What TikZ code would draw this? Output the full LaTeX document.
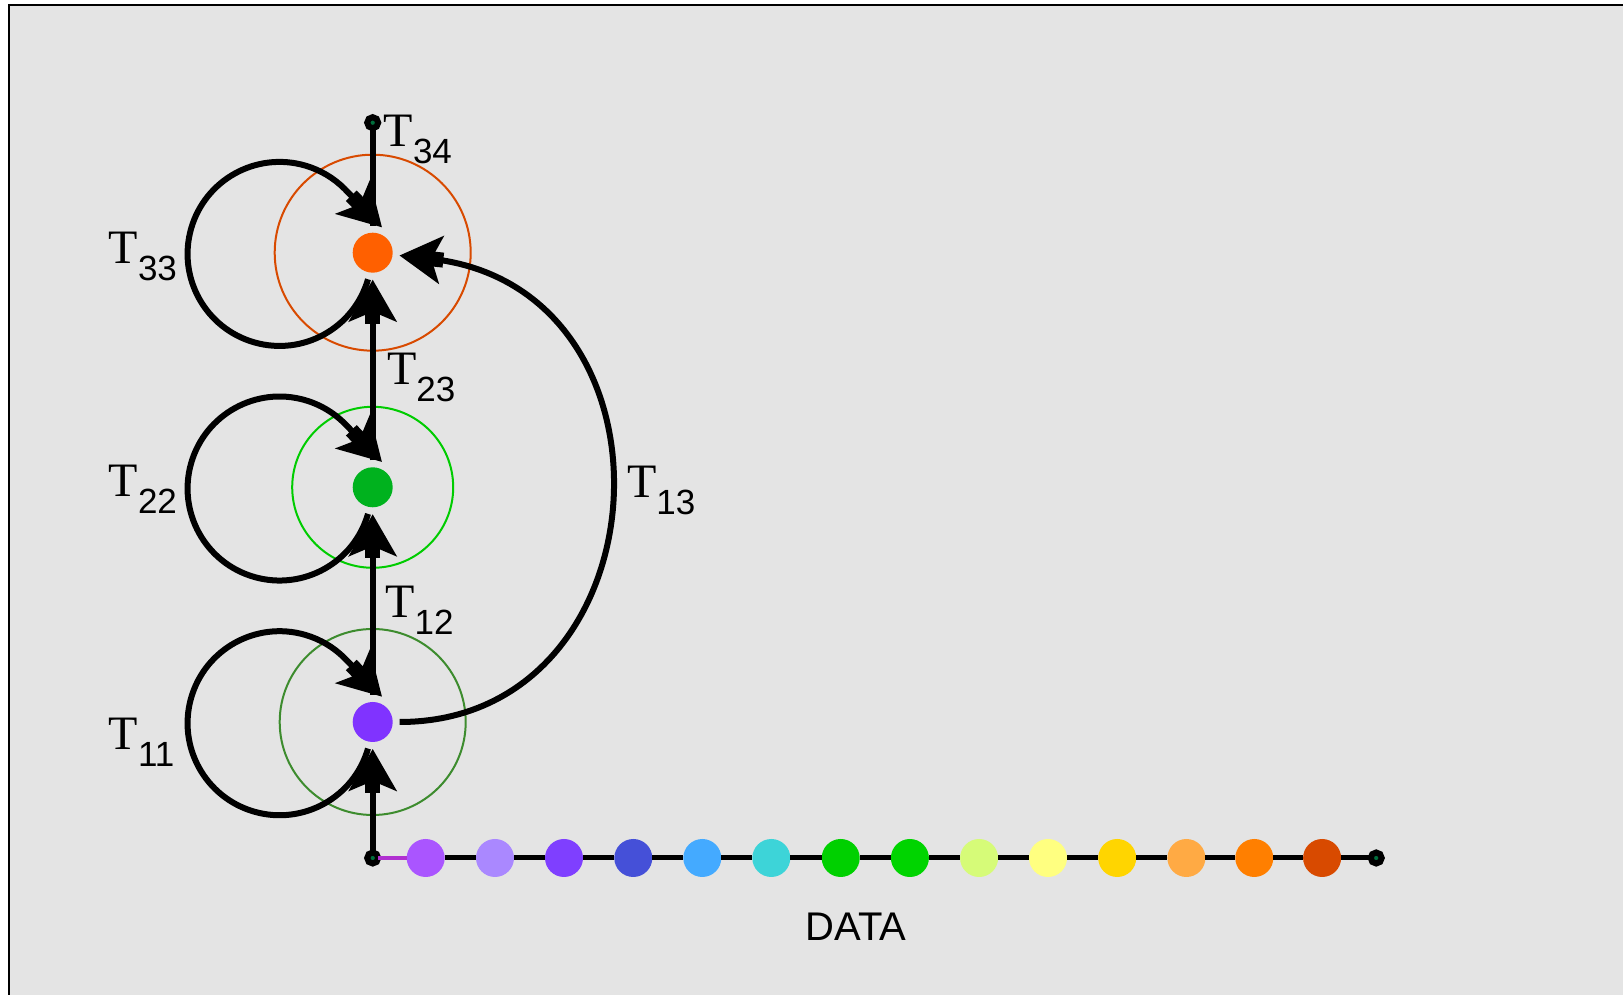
\documentclass[tikz,border=0pt]{standalone}
\usepackage{fontspec}
\setmainfont{Liberation Sans}
\newfontfamily\lserif{Liberation Serif}
\usepackage{tikz}
\usetikzlibrary{arrows.meta}
\usepackage{xcolor}
\definecolor{bggray}{RGB}{228,228,228}
\definecolor{dotgreen}{RGB}{0,110,60}
\definecolor{nodeorange}{RGB}{255,96,0}
\definecolor{nodegreen}{RGB}{0,178,30}
\definecolor{nodepurple}{RGB}{128,51,255}
\definecolor{ringorange}{RGB}{216,74,0}
\definecolor{ringgreen}{RGB}{0,204,0}
\definecolor{ringdark}{RGB}{61,140,46}
\definecolor{linkpurple}{RGB}{176,48,208}
\definecolor{c1}{HTML}{AA55FF}
\definecolor{c2}{HTML}{AA88FF}
\definecolor{c3}{HTML}{7F3FFF}
\definecolor{c4}{HTML}{4550D8}
\definecolor{c5}{HTML}{44AAFF}
\definecolor{c6}{HTML}{3DD4D8}
\definecolor{c7}{HTML}{00D000}
\definecolor{c8}{HTML}{00D400}
\definecolor{c9}{HTML}{D6FB78}
\definecolor{c10}{HTML}{FFFF80}
\definecolor{c11}{HTML}{FFD500}
\definecolor{c12}{HTML}{FFAA44}
\definecolor{c13}{HTML}{FF7F00}
\definecolor{c14}{HTML}{D84A00}
\newcommand{\tlab}[1]{{\lserif T}\raisebox{-8.5pt}{\fontsize{17.5}{20}\selectfont #1}}

\begin{document}
\begin{tikzpicture}[x=0.5pt, y=0.5pt,
    >={Rectangle[length=6.3pt,width=7.5pt,sep=-5.3pt] Stealth[length=21pt,width=24pt,inset=5pt]},
    state/.style={circle, minimum size=20pt, inner sep=0pt, outer sep=3.5pt},
    enddot/.style={circle, draw=black, fill=dotgreen, line width=3pt, minimum size=5.5pt, inner sep=0pt, outer sep=0pt},
    datadot/.style={circle, minimum size=19pt, inner sep=0pt, outer sep=0pt},
    edge/.style={line width=3pt},
    ring/.style={line width=1pt},
    tlabel/.style={anchor=base west, inner sep=0pt, font=\fontsize{24}{28}\selectfont}]
    \clip (0,0) rectangle (1623,995);
    \fill[white] (0,0) rectangle (1623,995);
    \draw[fill=bggray, line width=1pt] (9,-20) rectangle (1660,990);

    \node[enddot] (n34) at (372.7, 872.3) {};
    \node[state, fill=nodeorange] (n33) at (372.7, 742.3) {};
    \node[state, fill=nodegreen] (n22) at (372.7, 507.7) {};
    \node[state, fill=nodepurple] (n11) at (372.7, 273) {};
    \node[enddot] (o) at (372.7, 137) {};
    \node[enddot] (e) at (1376.2, 137) {};

    \draw[ring, ringorange] (n33) circle[radius=49pt];
    \draw[ring, ringgreen] (n22) circle[radius=40.25pt];
    \draw[ring, ringdark] (n11) circle[radius=46.5pt];

    \draw[edge] (n34) -- (n33);
    \draw[edge, ->] (n22) -- (n33);
    \draw[edge, ->] (n11) -- (n22);
    \draw[edge, ->] (o) -- (n11);
    \foreach \n in {n11, n22, n33}
      \draw[edge, ->] (\n.260) arc[start angle=-16, end angle=-315, radius=46pt] -- (\n.70);
    \draw[edge, ->] (n11) to[out=0, in=-6, out distance=134pt, in distance=147pt] (n33);

    \node[tlabel] (l34) at (383.3, 848.3) {\tlab{34}};
    \node[tlabel] (l33) at (108.3, 731.7) {\tlab{33}};
    \node[tlabel] (l23) at (386.7, 610) {\tlab{23}};
    \node[tlabel] (l22) at (108.3, 498.3) {\tlab{22}};
    \node[tlabel] (l13) at (626.7, 497.7) {\tlab{13}};
    \node[tlabel] (l12) at (385, 377) {\tlab{12}};
    \node[tlabel] (l11) at (108.3, 245) {\tlab{11}};

    \foreach \x/\c [count=\i] in {425.7/c1, 495/c2, 564/c3, 633.3/c4, 702.3/c5, 771.3/c6, 840.7/c7,
        909.9/c8, 979.1/c9, 1048/c10, 1117.2/c11, 1186.4/c12, 1254.3/c13, 1322.1/c14}
      \node[datadot, fill=\c] (d\i) at (\x, 137) {};
    \draw[linkpurple, line width=2pt] (o) -- (d1);
    \foreach \i [remember=\i as \last (initially 1)] in {2,...,14}
      \draw[line width=2.5pt] (d\last) -- (d\i);
    \draw[line width=2.5pt] (d14) -- (e);
    \node[font=\fontsize{20}{24}\selectfont] (data) at (856, 68) {DATA};
  \end{tikzpicture}
\end{document}
